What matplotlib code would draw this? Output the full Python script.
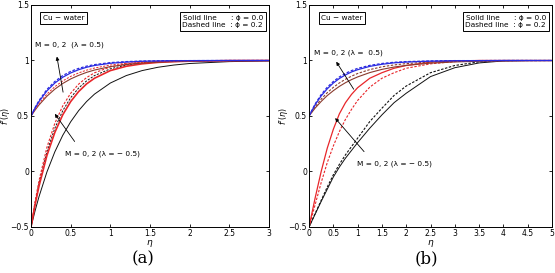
import matplotlib

matplotlib.use("Agg")
import matplotlib.pyplot as plt

# ---- panel (a): eta grid and f'(eta) values ----
ETA_A = [0, 0.05, 0.1, 0.2, 0.3, 0.4, 0.5, 0.6, 0.7, 0.8, 1.0, 1.2, 1.4, 1.6, 1.8, 2.0, 2.5, 3.0]

A_NEG_BLACK_SOLID = [-0.5, -0.357, -0.228, -0.005, 0.177, 0.326, 0.448, 0.548, 0.630, 0.697,
                     0.797, 0.864, 0.909, 0.939, 0.959, 0.973, 0.990, 0.996]
A_NEG_BLACK_DASH = [-0.5, -0.291, -0.111, 0.177, 0.390, 0.548, 0.665, 0.752, 0.816, 0.864,
                    0.925, 0.959, 0.978, 0.988, 0.993, 0.996, 0.999, 1.0]
A_NEG_RED_SOLID = [-0.5, -0.304, -0.134, 0.143, 0.352, 0.511, 0.630, 0.720, 0.789, 0.840,
                   0.909, 0.948, 0.970, 0.983, 0.990, 0.994, 0.999, 1.0]
A_NEG_RED_DASH = [-0.5, -0.275, -0.084, 0.217, 0.434, 0.591, 0.705, 0.787, 0.846, 0.889,
                  0.942, 0.970, 0.984, 0.992, 0.996, 0.998, 1.0, 1.0]

A_POS_BROWN_SOLID = [0.5, 0.552, 0.599, 0.678, 0.742, 0.793, 0.834, 0.866, 0.893, 0.914,
                     0.945, 0.964, 0.977, 0.985, 0.990, 0.994, 0.998, 0.999]
A_POS_BROWN_DASH = [0.5, 0.559, 0.611, 0.697, 0.764, 0.816, 0.857, 0.888, 0.913, 0.932,
                    0.959, 0.975, 0.985, 0.991, 0.994, 0.997, 0.999, 1.0]
A_POS_BLUE_SOLID = [0.5, 0.570, 0.630, 0.726, 0.797, 0.849, 0.888, 0.917, 0.939, 0.955,
                    0.975, 0.986, 0.993, 0.996, 0.998, 0.999, 1.0, 1.0]
A_POS_BLUE_DASH = [0.5, 0.575, 0.639, 0.739, 0.811, 0.864, 0.902, 0.929, 0.949, 0.963,
                   0.981, 0.990, 0.995, 0.997, 0.999, 0.999, 1.0, 1.0]

# ---- panel (b) ----
ETA_B = [0, 0.125, 0.25, 0.375, 0.5, 0.625, 0.75, 0.875, 1.0, 1.25, 1.5, 1.75, 2.0,
         2.5, 3.0, 3.5, 4.0, 4.5, 5.0]

B_NEG_BLACK_SOLID = [-0.5, -0.385, -0.27, -0.16, -0.05, 0.04, 0.12, 0.19, 0.26, 0.39,
                     0.51, 0.62, 0.705, 0.855, 0.935, 0.978, 0.996, 1.0, 1.0]
B_NEG_BLACK_DASH = [-0.5, -0.38, -0.26, -0.14, -0.03, 0.065, 0.15, 0.225, 0.30, 0.45,
                    0.57, 0.685, 0.77, 0.89, 0.955, 0.988, 1.0, 1.0, 1.0]
B_NEG_RED_SOLID = [-0.5, -0.24, 0.0, 0.21, 0.38, 0.52, 0.62, 0.695, 0.755, 0.84,
                   0.89, 0.93, 0.955, 0.985, 0.996, 1.0, 1.0, 1.0, 1.0]
B_NEG_RED_DASH = [-0.5, -0.30, -0.10, 0.08, 0.23, 0.36, 0.47, 0.56, 0.64, 0.76,
                  0.84, 0.89, 0.93, 0.97, 0.99, 1.0, 1.0, 1.0, 1.0]

B_POS_BROWN_SOLID = [0.5, 0.571, 0.631, 0.684, 0.728, 0.767, 0.800, 0.828, 0.852, 0.891,
                     0.920, 0.941, 0.956, 0.976, 0.987, 0.993, 0.996, 0.998, 0.999]
B_POS_BROWN_DASH = [0.5, 0.583, 0.652, 0.710, 0.758, 0.798, 0.831, 0.859, 0.883, 0.918,
                    0.943, 0.960, 0.972, 0.987, 0.994, 0.997, 0.998, 0.999, 1.0]
B_POS_BLUE_SOLID = [0.5, 0.601, 0.681, 0.745, 0.797, 0.838, 0.870, 0.897, 0.917, 0.947,
                    0.966, 0.979, 0.986, 0.994, 0.998, 0.999, 1.0, 1.0, 1.0]
B_POS_BLUE_DASH = [0.5, 0.608, 0.693, 0.759, 0.811, 0.852, 0.884, 0.909, 0.929, 0.956,
                   0.973, 0.984, 0.990, 0.996, 0.999, 0.999, 1.0, 1.0, 1.0]

BLACK = "#111111"
RED = "#e8262a"
BROWN = "#8a3b2e"
BLUE = "#2a2ae0"
DASH = (0, (2.2, 1.4))

plt.rcParams.update({
    "font.family": "DejaVu Sans",
    "font.size": 5.5,
    "mathtext.fontset": "dejavusans",
})


def draw_panel(ax, eta, curves, xmax, xticks, arrows, texts):
    for values, color, style, lw in curves:
        ax.plot(eta, values, color=color, linestyle=style, linewidth=lw)
    ax.set_xlim(0, xmax)
    ax.set_ylim(-0.5, 1.5)
    ax.set_xticks(xticks)
    ax.set_xticklabels([f"{t:g}" for t in xticks])
    ax.set_yticks([-0.5, 0, 0.5, 1, 1.5])
    ax.set_yticklabels(["\u22120.5", "0", "0.5", "1", "1.5"])
    ax.tick_params(direction="in", length=2.5, width=0.6, top=True, right=True,
                   labelsize=5.5, pad=1.5)
    for spine in ax.spines.values():
        spine.set_linewidth(0.7)
    ax.set_xlabel(r"$\eta$", fontsize=6.5, labelpad=0)
    ax.set_ylabel(r"$f'(\eta)$", fontsize=5.8)
    ax.yaxis.set_label_coords(-0.078, 0.5)
    for (x0, y0), (x1, y1) in arrows:
        ax.annotate("", xy=(x1, y1), xytext=(x0, y0),
                    arrowprops=dict(arrowstyle="-|>", color="black", lw=0.6,
                                    mutation_scale=5))
    for x, y, s in texts:
        ax.text(x, y, s, fontsize=5.3, va="center", ha="left")
    ax.text(0.05, 0.955, "Cu \u2212 water", transform=ax.transAxes, fontsize=5.3,
            va="top", ha="left",
            bbox=dict(boxstyle="square,pad=0.35", facecolor="white",
                      edgecolor="black", linewidth=0.7))
    ax.text(0.975, 0.955, "Solid line      : \u03d5 = 0.0\nDashed line  : \u03d5 = 0.2",
            transform=ax.transAxes, fontsize=5.3, va="top", ha="right",
            linespacing=1.25,
            bbox=dict(boxstyle="square,pad=0.35", facecolor="white",
                      edgecolor="black", linewidth=0.7))


fig = plt.figure(figsize=(5.55, 2.73), dpi=100)
ax_a = fig.add_axes([0.0559, 0.1685, 0.4288, 0.8132])
ax_b = fig.add_axes([0.5568, 0.1685, 0.4378, 0.8132])

curves_a = [
    (A_NEG_BLACK_SOLID, BLACK, "-", 0.7),
    (A_NEG_BLACK_DASH, BLACK, DASH, 0.7),
    (A_NEG_RED_SOLID, RED, "-", 1.2),
    (A_NEG_RED_DASH, RED, DASH, 0.8),
    (A_POS_BROWN_SOLID, BROWN, "-", 0.8),
    (A_POS_BROWN_DASH, RED, DASH, 0.7),
    (A_POS_BLUE_SOLID, BLUE, "-", 0.9),
    (A_POS_BLUE_DASH, BLUE, DASH, 0.9),
]
curves_b = [
    (B_NEG_BLACK_SOLID, BLACK, "-", 0.7),
    (B_NEG_BLACK_DASH, BLACK, DASH, 0.8),
    (B_NEG_RED_SOLID, RED, "-", 0.9),
    (B_NEG_RED_DASH, RED, DASH, 0.8),
    (B_POS_BROWN_SOLID, BROWN, "-", 0.8),
    (B_POS_BROWN_DASH, BROWN, DASH, 0.8),
    (B_POS_BLUE_SOLID, BLUE, "-", 0.9),
    (B_POS_BLUE_DASH, BLUE, DASH, 0.9),
]

draw_panel(
    ax_a, ETA_A, curves_a, 3, [0, 0.5, 1, 1.5, 2, 2.5, 3],
    arrows=[((0.41, 0.69), (0.32, 1.06)), ((0.57, 0.25), (0.28, 0.54))],
    texts=[(0.05, 1.146, "M = 0, 2  (\u03bb = 0.5)"),
           (0.43, 0.157, "M = 0, 2 (\u03bb = \u2212 0.5)")],
)
draw_panel(
    ax_b, ETA_B, curves_b, 5, [0, 0.5, 1, 1.5, 2, 2.5, 3, 3.5, 4, 4.5, 5],
    arrows=[((0.95, 0.72), (0.53, 1.01)), ((1.17, 0.16), (0.50, 0.50))],
    texts=[(0.10, 1.067, "M = 0, 2 (\u03bb =  0.5)"),
           (0.99, 0.067, "M = 0, 2 (\u03bb = \u2212 0.5)")],
)

fig.text(0.258, 0.052, "(a)", fontsize=12, family="DejaVu Serif", ha="center", va="center")
fig.text(0.768, 0.052, "(b)", fontsize=12, family="DejaVu Serif", ha="center", va="center")

fig.savefig("out.png", dpi=100)
